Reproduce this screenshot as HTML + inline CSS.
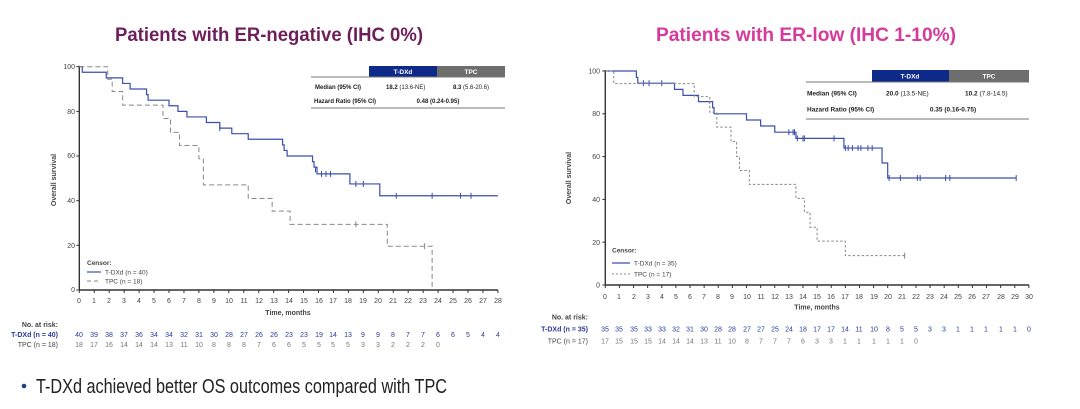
<!DOCTYPE html>
<html><head><meta charset="utf-8"><style>
html,body{margin:0;padding:0;background:#fff;}
svg{display:block;font-family:"Liberation Sans",Arial,sans-serif;}
</style></head><body>
<svg id="s" width="1080" height="409" viewBox="0 0 1080 409" xmlns="http://www.w3.org/2000/svg">
<rect width="1080" height="409" fill="#fff"/>
<text x="269" y="41" text-anchor="middle" font-size="19" font-weight="bold" fill="#6e1f5a" textLength="308" lengthAdjust="spacingAndGlyphs">Patients with ER-negative (IHC 0%)</text>
<text x="806" y="41" text-anchor="middle" font-size="19" font-weight="bold" fill="#d63a9a" textLength="300" lengthAdjust="spacingAndGlyphs">Patients with ER-low (IHC 1-10%)</text>
<circle cx="24" cy="386" r="2.3" fill="#1f3f7a"/>
<text x="36" y="393" font-size="20" fill="#222" textLength="411" lengthAdjust="spacingAndGlyphs">T-DXd achieved better OS outcomes compared with TPC</text>

<!-- left chart -->
<g font-size="7" fill="#444">
<text x="56" y="180" transform="rotate(-90 56 180)" text-anchor="middle" font-weight="bold" font-size="7">Overall survival</text>
<g text-anchor="end"><text x="75" y="69">100</text><text x="75" y="114">80</text><text x="75" y="158">60</text><text x="75" y="203">40</text><text x="75" y="248">20</text><text x="75" y="292">0</text></g>
<g text-anchor="middle">
<text x="79" y="303">0</text><text x="94" y="303">1</text><text x="109" y="303">2</text><text x="124" y="303">3</text><text x="139" y="303">4</text><text x="154" y="303">5</text><text x="169" y="303">6</text><text x="184" y="303">7</text><text x="199" y="303">8</text><text x="214" y="303">9</text><text x="229" y="303">10</text><text x="244" y="303">11</text><text x="259" y="303">12</text><text x="274" y="303">13</text><text x="289" y="303">14</text><text x="304" y="303">15</text><text x="319" y="303">16</text><text x="333" y="303">17</text><text x="348" y="303">18</text><text x="363" y="303">19</text><text x="378" y="303">20</text><text x="393" y="303">21</text><text x="408" y="303">22</text><text x="423" y="303">23</text><text x="438" y="303">24</text><text x="453" y="303">25</text><text x="468" y="303">26</text><text x="483" y="303">27</text><text x="498" y="303">28</text>
<text x="288" y="315" font-weight="bold">Time, months</text>
</g>
<text x="58" y="327" text-anchor="end" font-weight="bold">No. at risk:</text>
<text x="58" y="337" text-anchor="end" font-weight="bold" fill="#2b3a9a">T-DXd (n = 40)</text>
<text x="58" y="347" text-anchor="end">TPC (n = 18)</text>
<g text-anchor="middle" fill="#2b3a9a">
<text x="79" y="337">40</text><text x="94" y="337">39</text><text x="109" y="337">38</text><text x="124" y="337">37</text><text x="139" y="337">36</text><text x="154" y="337">34</text><text x="169" y="337">34</text><text x="184" y="337">32</text><text x="199" y="337">31</text><text x="214" y="337">30</text><text x="229" y="337">28</text><text x="244" y="337">27</text><text x="259" y="337">26</text><text x="274" y="337">26</text><text x="289" y="337">23</text><text x="304" y="337">23</text><text x="319" y="337">19</text><text x="333" y="337">14</text><text x="348" y="337">13</text><text x="363" y="337">9</text><text x="378" y="337">9</text><text x="393" y="337">8</text><text x="408" y="337">7</text><text x="423" y="337">7</text><text x="438" y="337">6</text><text x="453" y="337">6</text><text x="468" y="337">5</text><text x="483" y="337">4</text><text x="498" y="337">4</text>
</g>
<g text-anchor="middle" fill="#777">
<text x="79" y="347">18</text><text x="94" y="347">17</text><text x="109" y="347">16</text><text x="124" y="347">14</text><text x="139" y="347">14</text><text x="154" y="347">14</text><text x="169" y="347">13</text><text x="184" y="347">11</text><text x="199" y="347">10</text><text x="214" y="347">8</text><text x="229" y="347">8</text><text x="244" y="347">8</text><text x="259" y="347">7</text><text x="274" y="347">6</text><text x="289" y="347">6</text><text x="304" y="347">5</text><text x="319" y="347">5</text><text x="333" y="347">5</text><text x="348" y="347">5</text><text x="363" y="347">3</text><text x="378" y="347">3</text><text x="393" y="347">2</text><text x="408" y="347">2</text><text x="423" y="347">2</text><text x="438" y="347">0</text>
</g>
<!-- table -->
<rect x="369" y="66" width="68" height="11" fill="#0d2a8a"/>
<rect x="437" y="66" width="68" height="11" fill="#6e6e6e"/>
<text x="403" y="74" text-anchor="middle" fill="#fff" font-weight="bold" font-size="6.5">T-DXd</text>
<text x="471" y="74" text-anchor="middle" fill="#fff" font-weight="bold" font-size="6.5">TPC</text>
<line x1="311" y1="77" x2="505" y2="77" stroke="#777" stroke-width="1"/>
<line x1="311" y1="108" x2="505" y2="108" stroke="#777" stroke-width="1"/>
<text x="315" y="89" font-size="6" font-weight="bold" fill="#222">Median (95% CI)</text>
<text x="386" y="89" font-size="6" fill="#222"><tspan font-weight="bold">18.2</tspan> (13.6-NE)</text>
<text x="453" y="89" font-size="6" fill="#222"><tspan font-weight="bold">8.3</tspan> (5.6-20.6)</text>
<text x="314" y="103" font-size="6" font-weight="bold" fill="#222">Hazard Ratio (95% CI)</text>
<text x="438" y="103" font-size="6" font-weight="bold" fill="#222" text-anchor="middle">0.48 (0.24-0.95)</text>
<!-- legend -->
<text x="87" y="265" font-weight="bold" font-size="6.5">Censor:</text>
<line x1="87" y1="272" x2="101" y2="272" stroke="#3a4fb0" stroke-width="1.2"/>
<text x="105" y="274.5" font-size="6.5">T-DXd (n = 40)</text>
<line x1="87" y1="281" x2="101" y2="281" stroke="#888" stroke-width="1" stroke-dasharray="4,3"/>
<text x="105" y="283.5" font-size="6.5">TPC (n = 18)</text>
</g>

<!-- right chart -->
<g font-size="7" fill="#444">
<text x="571" y="178" transform="rotate(-90 571 178)" text-anchor="middle" font-weight="bold">Overall survival</text>
<g text-anchor="end"><text x="600" y="73.5">100</text><text x="600" y="116">80</text><text x="600" y="159">60</text><text x="600" y="202">40</text><text x="600" y="245">20</text><text x="600" y="287.5">0</text></g>
<g text-anchor="middle">
<text x="605" y="299">0</text><text x="619" y="299">1</text><text x="634" y="299">2</text><text x="648" y="299">3</text><text x="662" y="299">4</text><text x="676" y="299">5</text><text x="690" y="299">6</text><text x="704" y="299">7</text><text x="718" y="299">8</text><text x="732" y="299">9</text><text x="747" y="299">10</text><text x="761" y="299">11</text><text x="775" y="299">12</text><text x="789" y="299">13</text><text x="803" y="299">14</text><text x="817" y="299">15</text><text x="831" y="299">16</text><text x="845" y="299">17</text><text x="859" y="299">18</text><text x="874" y="299">19</text><text x="888" y="299">20</text><text x="902" y="299">21</text><text x="916" y="299">22</text><text x="930" y="299">23</text><text x="944" y="299">24</text><text x="958" y="299">25</text><text x="972" y="299">26</text><text x="986" y="299">27</text><text x="1001" y="299">28</text><text x="1015" y="299">29</text><text x="1029" y="299">30</text>
<text x="817" y="309.5" font-weight="bold">Time, months</text>
</g>
<text x="588" y="319.5" text-anchor="end" font-weight="bold">No. at risk:</text>
<text x="588" y="331.5" text-anchor="end" font-weight="bold" fill="#2b3a9a">T-DXd (n = 35)</text>
<text x="588" y="343.5" text-anchor="end">TPC (n = 17)</text>
<g text-anchor="middle" fill="#2b3a9a">
<text x="605" y="331.5">35</text><text x="619" y="331.5">35</text><text x="634" y="331.5">35</text><text x="648" y="331.5">33</text><text x="662" y="331.5">33</text><text x="676" y="331.5">32</text><text x="690" y="331.5">31</text><text x="704" y="331.5">30</text><text x="718" y="331.5">28</text><text x="732" y="331.5">28</text><text x="747" y="331.5">27</text><text x="761" y="331.5">27</text><text x="775" y="331.5">25</text><text x="789" y="331.5">24</text><text x="803" y="331.5">18</text><text x="817" y="331.5">17</text><text x="831" y="331.5">17</text><text x="845" y="331.5">14</text><text x="859" y="331.5">11</text><text x="874" y="331.5">10</text><text x="888" y="331.5">8</text><text x="902" y="331.5">5</text><text x="916" y="331.5">5</text><text x="930" y="331.5">3</text><text x="944" y="331.5">3</text><text x="958" y="331.5">1</text><text x="972" y="331.5">1</text><text x="986" y="331.5">1</text><text x="1001" y="331.5">1</text><text x="1015" y="331.5">1</text><text x="1029" y="331.5">0</text>
</g>
<g text-anchor="middle" fill="#777">
<text x="605" y="343.5">17</text><text x="619" y="343.5">15</text><text x="634" y="343.5">15</text><text x="648" y="343.5">15</text><text x="662" y="343.5">14</text><text x="676" y="343.5">14</text><text x="690" y="343.5">14</text><text x="704" y="343.5">13</text><text x="718" y="343.5">11</text><text x="732" y="343.5">10</text><text x="747" y="343.5">8</text><text x="761" y="343.5">7</text><text x="775" y="343.5">7</text><text x="789" y="343.5">7</text><text x="803" y="343.5">6</text><text x="817" y="343.5">3</text><text x="831" y="343.5">3</text><text x="845" y="343.5">1</text><text x="859" y="343.5">1</text><text x="874" y="343.5">1</text><text x="888" y="343.5">1</text><text x="902" y="343.5">1</text><text x="916" y="343.5">0</text>
</g>
<rect x="872" y="70" width="77" height="12" fill="#0d2a8a"/>
<rect x="949" y="70" width="80" height="12" fill="#6e6e6e"/>
<text x="910" y="78.5" text-anchor="middle" fill="#fff" font-weight="bold" font-size="6.5">T-DXd</text>
<text x="989" y="78.5" text-anchor="middle" fill="#fff" font-weight="bold" font-size="6.5">TPC</text>
<line x1="806" y1="82" x2="1029" y2="82" stroke="#777" stroke-width="1"/>
<line x1="806" y1="119" x2="1029" y2="119" stroke="#777" stroke-width="1"/>
<text x="807" y="95.5" font-size="6.5" font-weight="bold" fill="#222">Median (95% CI)</text>
<text x="886" y="95.5" font-size="6.5" fill="#222"><tspan font-weight="bold">20.0</tspan> (13.5-NE)</text>
<text x="965" y="95.5" font-size="6.5" fill="#222"><tspan font-weight="bold">10.2</tspan> (7.8-14.5)</text>
<text x="807" y="111.5" font-size="6.5" font-weight="bold" fill="#222">Hazard Ratio (95% CI)</text>
<text x="953" y="111.5" font-size="6.5" font-weight="bold" fill="#222" text-anchor="middle">0.35 (0.16-0.75)</text>
<text x="612" y="252.5" font-weight="bold" font-size="6.5">Censor:</text>
<line x1="612" y1="263" x2="630" y2="263" stroke="#3a4fb0" stroke-width="1.2"/>
<text x="634" y="265.5" font-size="6.5">T-DXd (n = 35)</text>
<line x1="612" y1="274" x2="630" y2="274" stroke="#888" stroke-width="1" stroke-dasharray="2,2"/>
<text x="634" y="276.5" font-size="6.5">TPC (n = 17)</text>
</g>
<g id="dyn"></g>
</svg>
<script>
(function(){
var NS="http://www.w3.org/2000/svg",g=document.getElementById("dyn");
function el(n,a){var e=document.createElementNS(NS,n);for(var k in a)e.setAttribute(k,a[k]);g.appendChild(e);return e;}
function chart(c){
  var X=function(m){return c.x0+m*c.dx},Y=function(v){return c.y0-v*c.dy};
  // axes
  el("line",{x1:X(0),y1:c.y0-100*c.dy-1,x2:X(0),y2:c.y0,stroke:"#333","stroke-width":1.4});
  el("line",{x1:X(0),y1:c.y0,x2:X(c.max),y2:c.y0,stroke:"#333","stroke-width":1.4});
  for(var i=0;i<=c.max;i++)el("line",{x1:X(i),y1:c.y0,x2:X(i),y2:c.y0+3,stroke:"#333","stroke-width":1});
  for(var v=0;v<=100;v+=20)el("line",{x1:X(0)-3,y1:Y(v),x2:X(0),y2:Y(v),stroke:"#333","stroke-width":1});
  c.series.forEach(function(s){
    var d="M"+X(0)+","+Y(s.pts[0][1]);
    for(var j=1;j<s.pts.length;j++){d+=" H"+X(s.pts[j][0])+" V"+Y(s.pts[j][1]);}
    d+=" H"+X(s.end);
    el("path",{d:d,fill:"none",stroke:s.col,"stroke-width":s.w,"stroke-dasharray":s.dash||"none"});
    (s.cens||[]).forEach(function(p){el("line",{x1:X(p[0]),y1:Y(p[1])-3,x2:X(p[0]),y2:Y(p[1])+3,stroke:s.col,"stroke-width":1});});
  });
}
chart({x0:79.3,dx:14.95,y0:290,dy:2.233,max:28,series:[
 {col:"#3a4fb0",w:1.2,end:28,pts:[[0,100],[0.2,97.5],[1.8,95],[2.9,92.5],[3.4,90],[4.5,87.5],[4.6,85],[6,82.5],[6.6,80],[7.2,77.5],[8.5,75],[9.4,72.5],[10.2,70],[11.3,67.5],[13.6,65],[13.7,62.5],[13.9,60],[15.6,57.5],[15.7,55],[15.9,52],[18.1,47.5],[20.1,42.2]],
  cens:[[9.4,72.5],[15.8,54],[16.2,52],[16.5,52],[16.8,52],[18.5,47.5],[19,47.5],[21.2,42.2],[23.6,42.2],[25.5,42.2],[26.2,42.2]]},
 {col:"#888",w:1,dash:"5,3",end:23.6,pts:[[0,100],[1.9,94.4],[2.2,88.9],[2.9,82.8],[5.6,76.8],[6.1,70.6],[6.7,64.7],[8,58.8],[8.3,47.1],[11.3,41],[12.9,35.3],[14.1,29.4],[20.6,19.6],[23.6,0]],
  cens:[[18.5,29.4],[23.1,19.6]]}
]});
chart({x0:605.3,dx:14.12,y0:285,dy:2.14,max:30,series:[
 {col:"#3a4fb0",w:1.2,end:29.1,pts:[[0,100],[2.2,97],[2.3,94.3],[4.9,91.4],[5.5,88.6],[6.6,85.7],[7.6,82.9],[7.7,80],[10,77.1],[11,74.3],[12,71.4],[13.5,68.5],[16.9,64],[19.6,57],[20,50]],
  cens:[[2.7,94.3],[3.1,94.3],[4,94.3],[13,71.4],[13.3,71.4],[13.4,71.4],[13.6,68.5],[14,68.5],[14.1,68.5],[16.2,68.5],[17,64],[17.2,64],[17.5,64],[17.9,64],[18.1,64],[18.6,64],[18.9,64],[20.1,50],[20.9,50],[22.1,50],[22.3,50],[24.1,50],[24.4,50],[29.1,50]]},
 {col:"#888",w:1,dash:"2.5,2",end:21.2,pts:[[0,100],[0.6,94.1],[6.3,88],[7.4,80.7],[7.9,73.8],[8.9,67],[9.3,60],[9.5,53.5],[10.2,47],[13.5,40.5],[14.1,34],[14.5,27],[15,20.5],[17,13.7]],
  cens:[[21.2,13.7]]}
]});
})();
</script>
</body></html>
